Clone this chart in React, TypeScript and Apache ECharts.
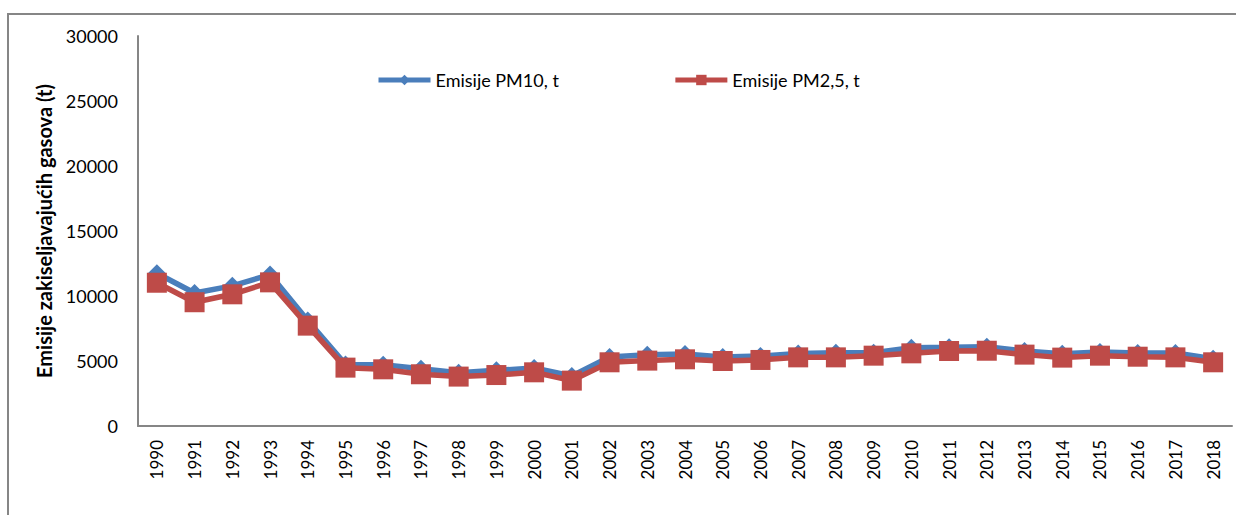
import React, { useEffect, useRef } from "react";
import * as echarts from "echarts";

const years = [
  "1990", "1991", "1992", "1993", "1994", "1995", "1996", "1997", "1998", "1999",
  "2000", "2001", "2002", "2003", "2004", "2005", "2006", "2007", "2008", "2009",
  "2010", "2011", "2012", "2013", "2014", "2015", "2016", "2017", "2018",
];
const pm10 = [
  11750, 10230, 10780, 11650, 8120, 4740, 4720, 4410, 4100, 4280,
  4460, 3850, 5310, 5480, 5540, 5310, 5380, 5580, 5640, 5640,
  6020, 6050, 6100, 5770, 5560, 5690, 5620, 5620, 5180,
];
const pm25 = [
  11020, 9520, 10130, 11050, 7720, 4490, 4360, 3980, 3800, 3920,
  4130, 3490, 4900, 5030, 5130, 5000, 5080, 5280, 5280, 5410,
  5590, 5770, 5790, 5490, 5260, 5410, 5330, 5280, 4900,
];
const seriesNames = ["Emisije PM10, t", "Emisije PM2,5, t"];
const yAxisTitle = "Emisije zakiseljavajućih gasova (t)";

const FONT = "Lato, 'Open Sans', sans-serif";
const BLUE = "#4A7EBB";
const RED = "#BE4B48";
const AXIS = "#868686";

export default function App() {
  const ref = useRef<HTMLDivElement>(null);
  useEffect(() => {
    document.body.style.margin = "0";
    const chart = echarts.init(ref.current!, null, { renderer: "svg" });
    chart.setOption({
      animation: false,
      backgroundColor: "#fff",
      graphic: [
        {
          type: "rect",
          shape: { x: 8, y: 14, width: 1400, height: 700 },
          style: { fill: "none", stroke: AXIS, lineWidth: 2 },
          silent: true,
          z: -1,
        },
      ],
      grid: { left: 138, right: 4, top: 36, bottom: 89, containLabel: false },
      legend: {
        left: 376,
        top: 71,
        padding: 0,
        itemWidth: 52,
        itemHeight: 13,
        itemGap: 114,
        lineStyle: { width: 5 },
        textStyle: { fontSize: 18, fontFamily: FONT, color: "#000" },
        data: seriesNames,
      },
      xAxis: {
        type: "category",
        data: years,
        boundaryGap: true,
        axisLine: { lineStyle: { color: AXIS, width: 2 } },
        axisTick: { show: false },
        axisLabel: {
          rotate: 90,
          margin: 14,
          interval: 0,
          fontSize: 17,
          fontFamily: FONT,
          color: "#000",
        },
      },
      yAxis: {
        type: "value",
        min: 0,
        max: 30000,
        interval: 5000,
        name: yAxisTitle,
        nameLocation: "middle",
        nameGap: 84,
        nameRotate: 90,
        nameTextStyle: { fontSize: 20, fontWeight: "bold", fontFamily: FONT, color: "#000" },
        axisLine: { show: true, lineStyle: { color: AXIS, width: 2 } },
        axisTick: { show: false },
        splitLine: { show: false },
        axisLabel: {
          margin: 20,
          fontSize: 18,
          fontFamily: FONT,
          color: "#000",
          formatter: (v: number) => String(v),
        },
      },
      series: [
        {
          name: seriesNames[0],
          type: "line",
          data: pm10,
          symbol: "diamond",
          symbolSize: 18,
          lineStyle: { color: BLUE, width: 5.5 },
          itemStyle: { color: BLUE },
          z: 2,
        },
        {
          name: seriesNames[1],
          type: "line",
          data: pm25,
          symbol: "rect",
          symbolSize: 20,
          lineStyle: { color: RED, width: 5.5 },
          itemStyle: { color: RED },
          z: 3,
        },
      ],
    });
    return () => chart.dispose();
  }, []);
  return <div ref={ref} style={{ width: 1236, height: 515 }} />;
}
